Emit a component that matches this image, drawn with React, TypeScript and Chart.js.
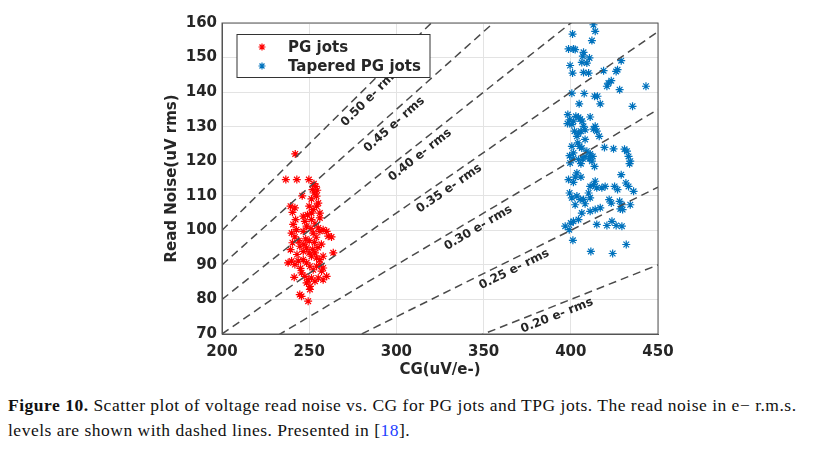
import React, { useEffect, useRef } from 'react';
import { Chart, registerables } from 'chart.js';

Chart.register(...registerables);

// read-noise levels in e- rms (dashed lines: noise = level * CG)
const noiseLevels = [0.5, 0.45, 0.4, 0.35, 0.3, 0.25, 0.2];
const levelLabels = ['0.50 e- rms', '0.45 e- rms', '0.40 e- rms', '0.35 e- rms', '0.30 e- rms', '0.25 e- rms', '0.20 e- rms'];
const levelLabelCG = [281, 295, 310, 327, 344, 365, 390];

const xTicks = [200, 250, 300, 350, 400, 450];
const yTicks = [70, 80, 90, 100, 110, 120, 130, 140, 150, 160];

// PG jots: [CG, read noise]
const pgJots: [number, number][] = [
  [242, 122.1], [236.6, 114.7], [242.9, 114.7], [249.8, 114.7], [252.7, 113.5], [253.8, 112.7],
  [254.6, 111.6], [252.9, 110.8], [254.2, 109.9], [251.9, 111.8], [246, 110], [251.3, 109.1],
  [255.2, 107.9], [254.2, 107], [239.3, 107], [241.8, 106.5], [240.4, 105.2], [250, 107],
  [252.3, 106], [251.3, 105], [256.1, 105], [256.1, 103.6], [242.2, 103.1], [240.8, 101.7],
  [242.7, 100.2], [239.9, 99.2], [241.8, 98.1], [246.6, 104.1], [247.5, 102.6], [248.5, 101.2],
  [246.6, 99.7], [251.3, 103.1], [253.3, 101.9], [255.2, 100.7], [252.3, 99.2], [256.1, 99.7],
  [258, 100.2], [260, 99.7], [260.9, 98.3], [262.8, 98.1], [240.4, 96.4], [239.3, 94.4],
  [239.9, 91.1], [237.9, 90.6], [241.8, 90.1], [243.7, 91.1], [244.6, 95.4], [246.6, 93.9],
  [248.5, 94.9], [250, 93.5], [251.3, 92.5], [253.3, 93.5], [254.2, 92], [256.1, 91.5],
  [258, 92.5], [246.6, 91.5], [248.5, 90.6], [250.4, 89.6], [252.3, 88.6], [254.2, 89.6],
  [256.1, 90.1], [258, 89.1], [245.6, 87.7], [247.5, 86.7], [249.4, 85.7], [251.3, 86.2],
  [253.3, 85.3], [255.2, 86.2], [241.4, 86.4], [248.5, 84.8], [250.4, 83.8], [263.8, 93.5],
  [260, 86.7], [244.6, 81.4], [245.6, 80.9], [250.4, 82.9], [249.4, 79.5], [257.1, 88.2],
  [258, 85.7], [250, 97], [253, 96.5], [248, 97.5], [255, 95], [244, 97], [251, 100.5],
  [249, 104.5], [247, 96], [245, 89], [243, 93], [254, 98], [257, 96], [252, 94.5],
];

// Tapered PG jots: [CG, read noise]
const tpgJots: [number, number][] = [
  [413.0, 159.5], [414.0, 157.6], [401.0, 156.8], [412.1, 154.9], [398.7, 152.5], [401.5, 152.5],
  [402.5, 152.3], [407.3, 151.5], [406.9, 150.4], [410.7, 149.9], [428.9, 149.1], [406.3, 148.6],
  [409.2, 148.4], [399.6, 147.7], [426.8, 146.5], [426.0, 146.0], [418.8, 146.2], [407.3, 145.7],
  [410.2, 145.5], [401.0, 145.5], [423.2, 143.3], [421.6, 142.6], [420.7, 141.7], [443.1, 141.7],
  [428.0, 140.7], [407.7, 139.6], [413.6, 138.8], [415.3, 138.8], [400.6, 139.7], [435.4, 135.9],
  [404.8, 136.6], [416.9, 136.6], [398.3, 133.5], [399.3, 132.0], [398.1, 130.9], [402.9, 133.0],
  [404.4, 132.7], [405.4, 132.2], [406.5, 131.6], [411.1, 132.8], [401.5, 131.6], [400.6, 130.6],
  [407.3, 130.1], [408.2, 129.1], [405.8, 128.7], [414.0, 130.1], [413.0, 129.3], [414.9, 128.7],
  [402.1, 128.7], [404.4, 128.0], [403.5, 127.2], [416.3, 127.2], [404.0, 125.3], [405.0, 124.3],
  [406.3, 123.8], [408.2, 126.3], [400.6, 124.3], [401.5, 122.4], [419.3, 124.0], [424.5, 123.6],
  [430.8, 123.5], [432.2, 122.9], [433.1, 121.4], [409.2, 122.9], [411.1, 122.1], [408.2, 121.4],
  [406.9, 120.7], [412.6, 121.4], [410.7, 120.7], [412.1, 120.0], [399.3, 121.6], [401.2, 120.7],
  [399.6, 119.5], [404.4, 120.5], [405.8, 119.3], [434.1, 120.0], [433.7, 119.3], [413.6, 118.5],
  [403.5, 116.6], [402.5, 115.4], [398.7, 114.7], [401.5, 113.9], [405.8, 115.4], [414.0, 114.2],
  [413.0, 113.2], [411.1, 112.7], [414.9, 112.3], [428.9, 116.1], [419.7, 112.7], [417.8, 112.3],
  [425.1, 112.7], [426.8, 111.8], [431.6, 113.7], [433.1, 112.7], [436.0, 111.3], [399.3, 110.8],
  [400.6, 109.4], [403.5, 109.9], [405.4, 108.9], [410.2, 110.8], [411.1, 109.4], [407.3, 108.9],
  [408.2, 107.7], [422.0, 108.9], [423.2, 107.9], [428.0, 108.4], [429.3, 107.4], [434.1, 107.4],
  [416.9, 106.5], [414.0, 106.0], [411.1, 105.5], [402.5, 107.4], [406.3, 105.0], [428.4, 106.2],
  [429.7, 106.0], [404.4, 103.1], [401.5, 102.6], [396.8, 101.2], [399.1, 100.2], [400.0, 102.1],
  [414.9, 101.7], [420.7, 101.4], [423.6, 102.6], [426.0, 101.4], [429.3, 101.2], [401.2, 97.1],
  [411.5, 93.9], [424.0, 93.3], [431.8, 95.9],
];

const seriesNames = ['PG jots', 'Tapered PG jots'];
const seriesColors = ['rgb(255,0,0)', 'rgb(0,114,189)'];

const FONT = '"DejaVu Sans", sans-serif';
const TEXT = '#262626';

function drawStar(ctx: CanvasRenderingContext2D, x: number, y: number, r: number, color: string) {
  ctx.save();
  ctx.strokeStyle = color;
  ctx.lineWidth = 1.2;
  ctx.beginPath();
  for (let i = 0; i < 4; i++) {
    const a = (i * Math.PI) / 4;
    ctx.moveTo(x - r * Math.cos(a), y - r * Math.sin(a));
    ctx.lineTo(x + r * Math.cos(a), y + r * Math.sin(a));
  }
  ctx.stroke();
  ctx.restore();
}

const levelTextPlugin = {
  id: 'levelText',
  afterDatasetsDraw(chart: any) {
    const { ctx, scales } = chart;
    const xs = scales.x;
    const ys = scales.y;
    ctx.save();
    ctx.font = `bold 12px ${FONT}`;
    ctx.fillStyle = TEXT;
    ctx.textAlign = 'center';
    ctx.textBaseline = 'middle';
    noiseLevels.forEach((k, i) => {
      const x0 = xs.getPixelForValue(200);
      const y0 = ys.getPixelForValue(200 * k);
      const x1 = xs.getPixelForValue(450);
      const y1 = ys.getPixelForValue(450 * k);
      const a = Math.atan2(y1 - y0, x1 - x0);
      const cg = levelLabelCG[i];
      const px = xs.getPixelForValue(cg) - Math.sin(a) * 10;
      const py = ys.getPixelForValue(cg * k) + Math.cos(a) * 10;
      ctx.save();
      ctx.translate(px, py);
      ctx.rotate(a);
      ctx.fillText(levelLabels[i], 0, 0);
      ctx.restore();
    });
    ctx.restore();
  },
};

const legendPlugin = {
  id: 'boxLegend',
  afterDraw(chart: any) {
    const { ctx } = chart;
    ctx.save();
    ctx.fillStyle = '#fff';
    ctx.fillRect(237, 34.5, 193, 43);
    ctx.strokeStyle = '#333';
    ctx.lineWidth = 1;
    ctx.strokeRect(237, 34.5, 193, 43);
    ctx.font = `bold 15px ${FONT}`;
    ctx.fillStyle = TEXT;
    ctx.textBaseline = 'middle';
    seriesNames.forEach((name, i) => {
      const y = 47 + i * 19;
      drawStar(ctx, 262, y, 3.5, seriesColors[i]);
      ctx.fillStyle = TEXT;
      ctx.fillText(name, 288, y + 1);
    });
    ctx.restore();
  },
};

const ReadNoiseChart: React.FC = () => {
  const canvasRef = useRef<HTMLCanvasElement | null>(null);
  const chartRef = useRef<Chart | null>(null);

  useEffect(() => {
    if (!canvasRef.current) return;
    if (chartRef.current) chartRef.current.destroy();

    const lineSets = noiseLevels.map((k) => ({
      label: `${k}`,
      data: [
        { x: 200, y: 200 * k },
        { x: 450, y: 450 * k },
      ],
      showLine: true,
      borderColor: '#4a4a4a',
      borderWidth: 1.5,
      borderDash: [8, 5],
      pointRadius: 0,
      fill: false,
    }));

    const scatterSets = [pgJots, tpgJots].map((pts, i) => ({
      label: seriesNames[i],
      data: pts.map(([x, y]) => ({ x, y })),
      showLine: false,
      pointStyle: 'star' as const,
      pointRadius: 4,
      pointBorderWidth: 1.2,
      borderColor: seriesColors[i],
      backgroundColor: seriesColors[i],
    }));

    chartRef.current = new Chart(canvasRef.current, {
      type: 'scatter',
      data: { datasets: [...lineSets, ...scatterSets] as any },
      options: {
        responsive: false,
        animation: false,
        layout: { padding: { left: 160, right: 163, top: 23, bottom: 0 } },
        plugins: {
          legend: { display: false },
          tooltip: { enabled: false },
        },
        scales: {
          x: {
            type: 'linear',
            min: 200,
            max: 450,
            afterFit: (s: any) => { s.height = 46; },
            afterBuildTicks: (s: any) => { s.ticks = xTicks.map((v) => ({ value: v })); },
            grid: { color: '#e3e3e3', tickLength: 0 },
            border: { color: '#555', width: 1 },
            ticks: { color: TEXT, font: { family: FONT, size: 15, weight: 'bold' }, padding: 9 },
            title: {
              display: true,
              text: 'CG(uV/e-)',
              color: TEXT,
              font: { family: FONT, size: 15, weight: 'bold' },
              padding: { top: 0, bottom: 1 },
            },
          },
          y: {
            type: 'linear',
            min: 70,
            max: 160,
            afterFit: (s: any) => { s.width = 62; },
            afterBuildTicks: (s: any) => { s.ticks = yTicks.map((v) => ({ value: v })); },
            grid: { color: '#e3e3e3', tickLength: 0 },
            border: { color: '#555', width: 1 },
            ticks: { color: TEXT, font: { family: FONT, size: 15, weight: 'bold' }, padding: 5 },
            title: {
              display: true,
              text: 'Read Noise(uV rms)',
              color: TEXT,
              font: { family: FONT, size: 15, weight: 'bold' },
              padding: { top: 3, bottom: 0 },
            },
          },
        },
      },
      plugins: [
        levelTextPlugin,
        legendPlugin,
        {
          id: 'boxFrame',
          afterDraw(chart: any) {
            const { ctx, chartArea: a } = chart;
            ctx.save();
            ctx.strokeStyle = '#555';
            ctx.lineWidth = 1;
            ctx.strokeRect(a.left, a.top, a.right - a.left, a.bottom - a.top);
            ctx.restore();
          },
        },
      ],
    });

    return () => {
      if (chartRef.current) {
        chartRef.current.destroy();
        chartRef.current = null;
      }
    };
  }, []);

  return (
    <div style={{ position: 'absolute', left: 0, top: 0, width: 821, height: 456, background: '#fff' }}>
      <canvas ref={canvasRef} width={821} height={380} style={{ display: 'block' }}></canvas>
      <div
        style={{
          position: 'absolute',
          left: 8,
          top: 393,
          fontFamily: '"Liberation Serif", serif',
          fontSize: 17.5,
          letterSpacing: '0.5px',
          lineHeight: '25px',
          color: '#111',
          whiteSpace: 'nowrap',
        }}
      >
        <b>Figure 10.</b> Scatter plot of voltage read noise vs. CG for PG jots and TPG jots. The read noise in e− r.m.s.
        <br />
        levels are shown with dashed lines. Presented in <span>[</span>
        <span style={{ color: '#1f3fff' }}>18</span>
        <span>]</span>.
      </div>
    </div>
  );
};

export default function App() {
  return <ReadNoiseChart />;
}
